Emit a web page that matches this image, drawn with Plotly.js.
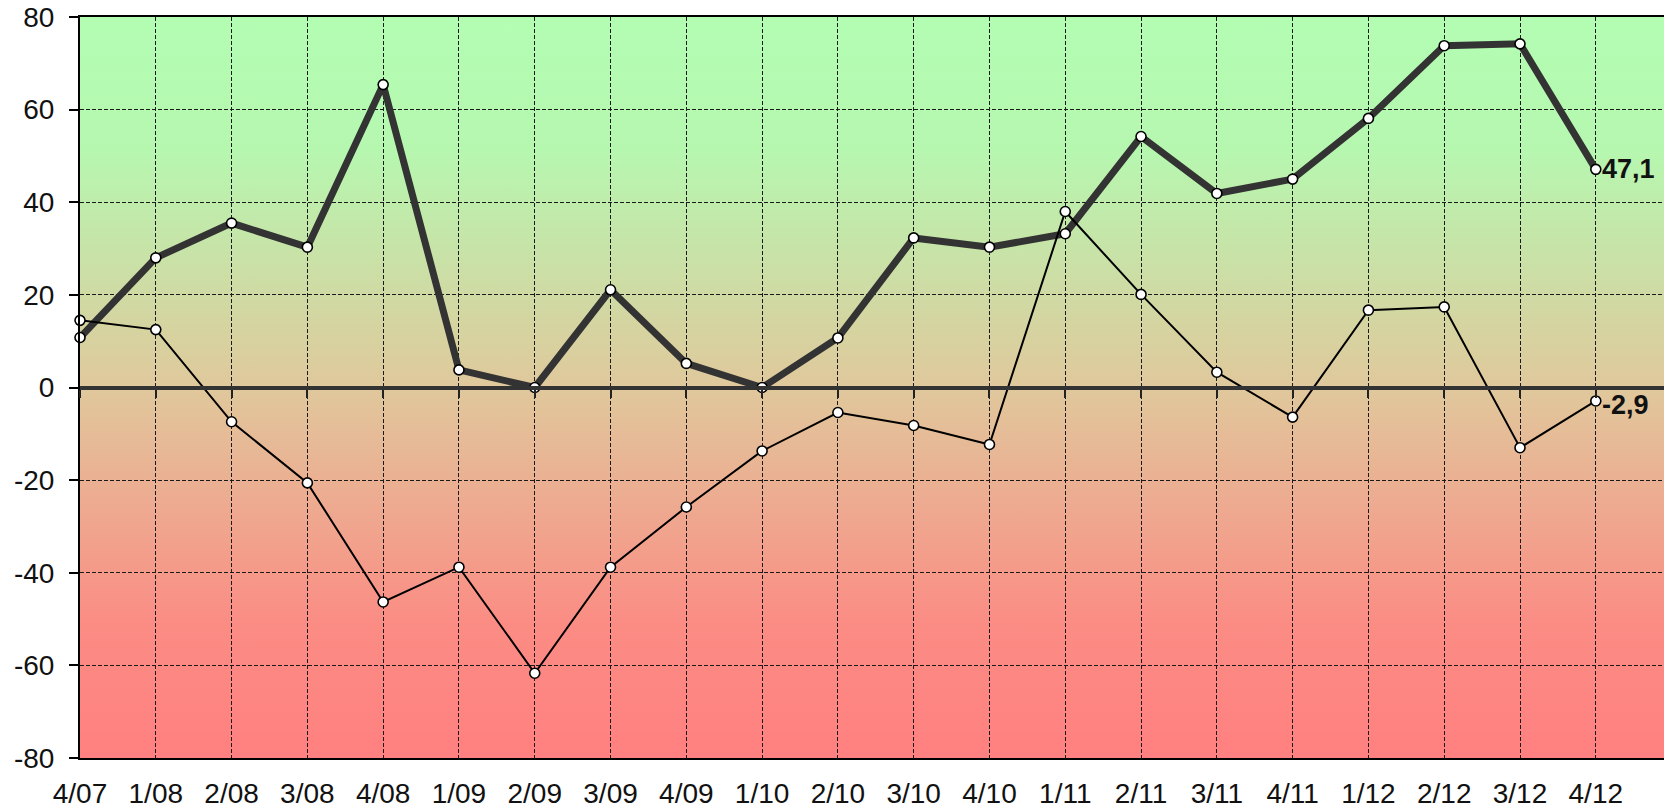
<!DOCTYPE html>
<html>
<head>
<meta charset="utf-8">
<script src="https://cdn.plot.ly/plotly-3.0.1.min.js"></script>
<style>
  html, body { margin: 0; padding: 0; background: #ffffff; overflow: hidden; }
  #chart { width: 1664px; height: 810px; }
</style>
</head>
<body>
<div id="chart"></div>
<script>
// ---- data ----
const quarters = ["4/07","1/08","2/08","3/08","4/08","1/09","2/09","3/09","4/09","1/10",
                  "2/10","3/10","4/10","1/11","2/11","3/11","4/11","1/12","2/12","3/12","4/12"];
const seriesThick = [10.8, 28.0, 35.5, 30.3, 65.4, 3.8, 0.0, 21.1, 5.2, 0.0,
                     10.7, 32.3, 30.3, 33.2, 54.2, 41.9, 45.0, 58.1, 73.8, 74.2, 47.1];
const seriesThin  = [14.5, 12.5, -7.4, -20.6, -46.3, -38.8, -61.7, -38.8, -25.8, -13.7,
                     -5.4, -8.2, -12.3, 38.0, 20.1, 3.3, -6.4, 16.7, 17.4, -13.0, -2.9];
const yTicks = [-80, -60, -40, -20, 0, 20, 40, 60, 80];

const FONT = "Liberation Sans, Arial, Helvetica, sans-serif";
const fmt = v => String(v).replace('.', ',');
const lastIdx = quarters.length - 1;

const gradSvg =
  '<svg xmlns="http://www.w3.org/2000/svg" width="100" height="100" preserveAspectRatio="none">' +
  '<defs><linearGradient id="g" x1="0" y1="0" x2="0" y2="1">' +
  '<stop offset="0" stop-color="#b3fdb3"/>' +
  '<stop offset="0.18" stop-color="#b6f7b0"/>' +
  '<stop offset="0.5" stop-color="#e0c89c"/>' +
  '<stop offset="0.82" stop-color="#fb8c84"/>' +
  '<stop offset="1" stop-color="#ff8080"/>' +
  '</linearGradient></defs><rect width="100" height="100" fill="url(#g)"/></svg>';
const gradUri = 'data:image/svg+xml;charset=utf-8,' + encodeURIComponent(gradSvg);

const markerStyle = { symbol: 'circle', size: 10, color: '#ffffff', line: { color: '#000000', width: 1.6 } };

const traces = [
  {
    x: quarters, y: seriesThick, type: 'scatter', mode: 'lines+markers',
    line: { color: '#333333', width: 7 },
    marker: markerStyle, hoverinfo: 'skip', cliponaxis: false
  },
  {
    x: quarters, y: seriesThin, type: 'scatter', mode: 'lines+markers',
    line: { color: '#000000', width: 2 },
    marker: markerStyle, hoverinfo: 'skip', cliponaxis: false
  },
  { x: [], y: [], xaxis: 'x2', type: 'scatter', mode: 'lines', showlegend: false, hoverinfo: 'skip' }
];

const gridDash = '4px,2px';

const layout = {
  width: 1664, height: 810,
  margin: { l: 80, r: 0, t: 17, b: 52 },
  paper_bgcolor: '#ffffff',
  plot_bgcolor: 'rgba(0,0,0,0)',
  showlegend: false,
  font: { family: FONT, size: 28, color: '#111111' },
  images: [{
    source: gradUri, xref: 'paper', yref: 'paper',
    x: 0, y: 1, sizex: 1, sizey: 1, xanchor: 'left', yanchor: 'top',
    sizing: 'stretch', layer: 'below'
  }],
  xaxis: {
    type: 'category', categoryorder: 'array', categoryarray: quarters,
    range: [0, 20.9], fixedrange: true,
    showgrid: true, gridcolor: '#1a1a1a', gridwidth: 1, griddash: gridDash,
    showline: true, linecolor: '#000000', linewidth: 2, mirror: true,
    ticks: '', ticklabelstandoff: 9,
    tickfont: { family: FONT, size: 28, color: '#111111' },
    zeroline: false
  },
  xaxis2: {
    overlaying: 'x', anchor: 'free', position: 0.5, side: 'bottom',
    type: 'category', categoryorder: 'array', categoryarray: quarters,
    tickmode: 'array', tickvals: quarters,
    range: [0, 20.9], fixedrange: true,
    showgrid: false, zeroline: false,
    showline: true, linecolor: '#333333', linewidth: 4,
    ticks: 'outside', ticklen: 8, tickwidth: 2, tickcolor: '#222222',
    showticklabels: false
  },
  yaxis: {
    range: [-80, 80], fixedrange: true,
    tickmode: 'array', tickvals: yTicks, ticktext: yTicks.map(String),
    showgrid: true, gridcolor: '#1a1a1a', gridwidth: 1, griddash: gridDash,
    showline: true, linecolor: '#000000', linewidth: 2,
    ticks: 'outside', ticklen: 9, tickwidth: 2, tickcolor: '#000000',
    ticklabelstandoff: 9,
    tickfont: { family: FONT, size: 28, color: '#111111' },
    zeroline: false
  },
  annotations: [
    {
      x: quarters[lastIdx], y: seriesThick[lastIdx], xref: 'x', yref: 'y',
      text: '<b>' + fmt(seriesThick[lastIdx]) + '</b>', showarrow: false,
      xanchor: 'left', yanchor: 'middle', xshift: 4,
      font: { family: FONT, size: 27, color: '#111111' }
    },
    {
      x: quarters[lastIdx], y: seriesThin[lastIdx], xref: 'x', yref: 'y',
      text: '<b>' + fmt(seriesThin[lastIdx]) + '</b>', showarrow: false,
      xanchor: 'left', yanchor: 'middle', xshift: 4, yshift: -4,
      font: { family: FONT, size: 27, color: '#111111' }
    }
  ]
};

Plotly.newPlot('chart', traces, layout, { staticPlot: true, displayModeBar: false });
</script>
</body>
</html>
